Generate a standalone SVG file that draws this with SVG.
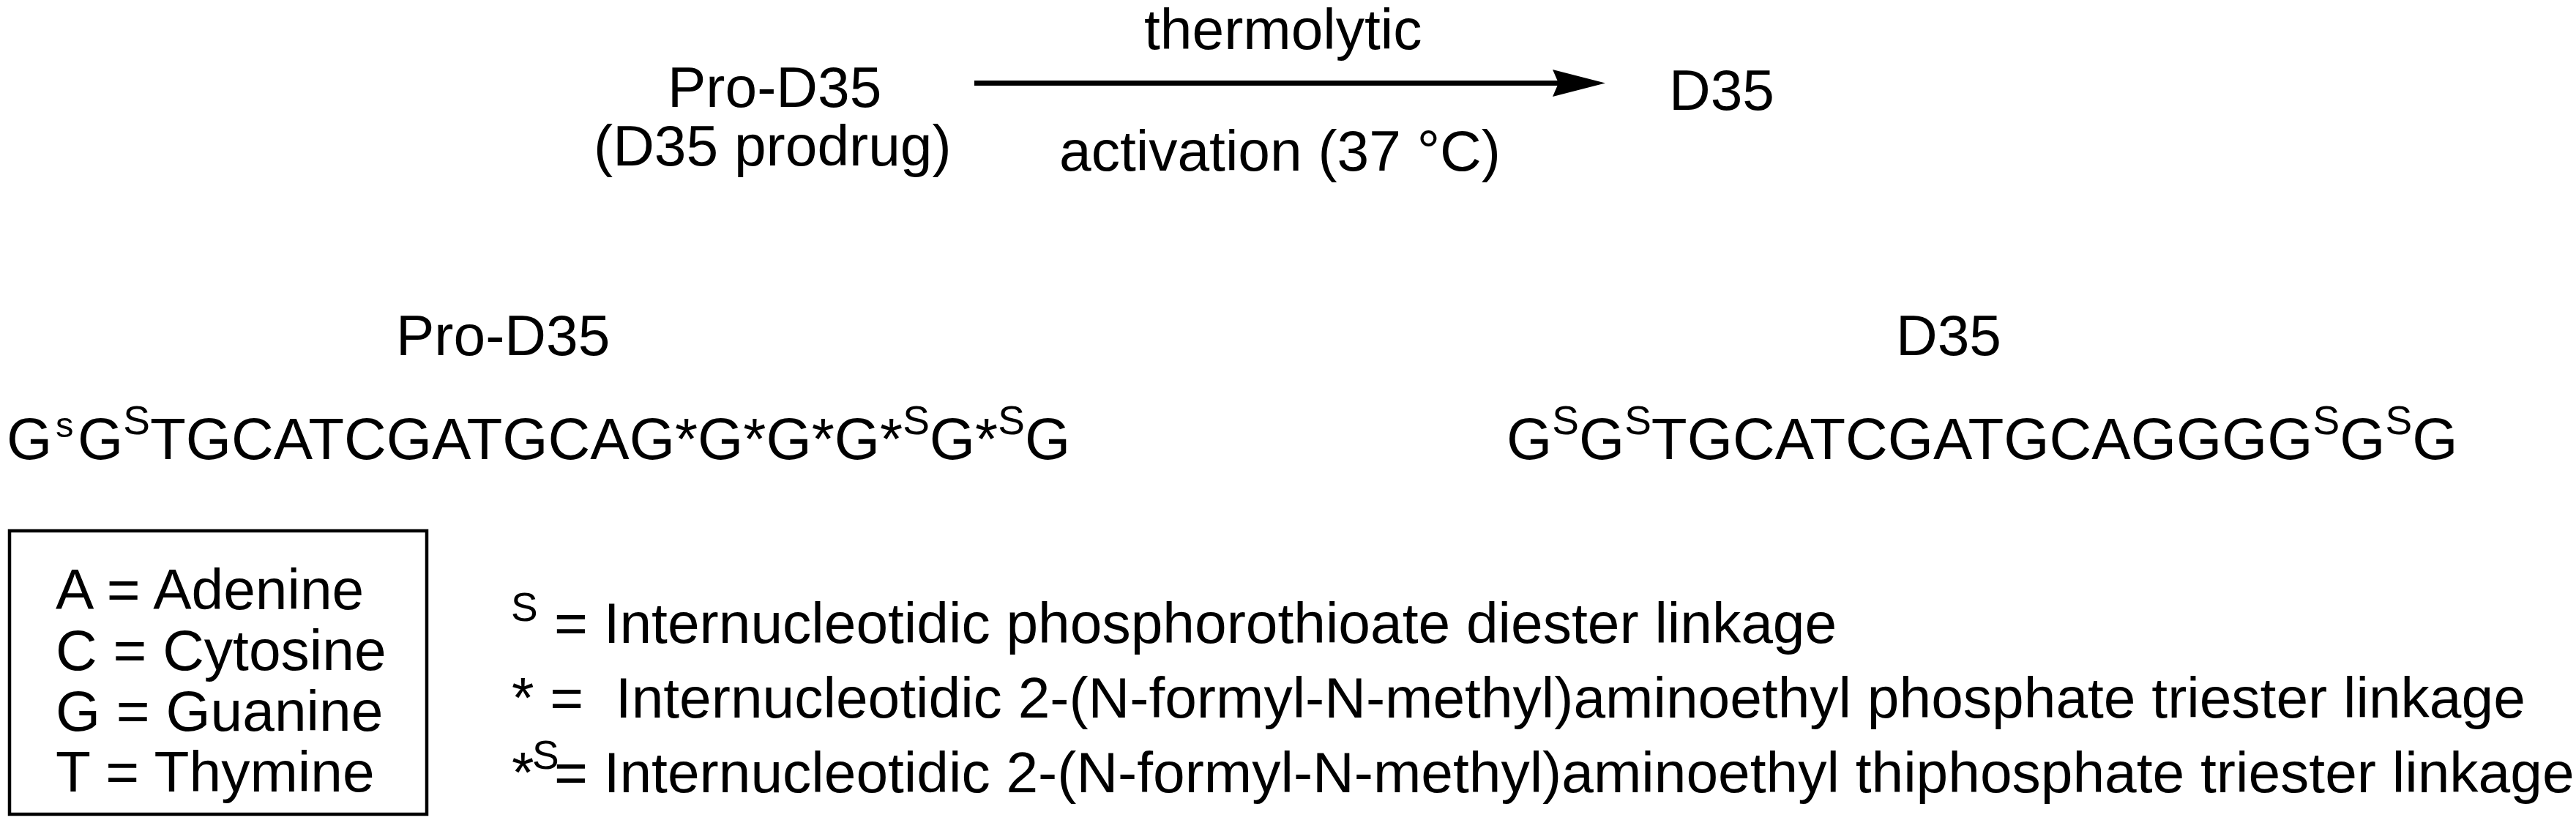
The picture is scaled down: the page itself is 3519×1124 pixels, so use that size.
<svg xmlns="http://www.w3.org/2000/svg" width="3519" height="1124" viewBox="0 0 3519 1124">
<style>
text { font-family: "Liberation Sans", Arial, Helvetica, sans-serif; font-size: 78.5px; fill: #000; }
.seq { font-size: 80px; }
.sup { font-size: 55px; }
.pre { white-space: pre; }
.box { fill: none; stroke: #000; stroke-width: 4.5; }
.arrow { stroke: #000; stroke-width: 7; fill: none; }
</style>
<defs>
<marker id="arrowhead" markerUnits="userSpaceOnUse" viewBox="0 0 72 37" markerWidth="72" markerHeight="37" refX="8" refY="18.5" orient="auto">
<path d="M0,0 L72,18.5 L0,37 L8,18.5 Z" fill="#000"/>
</marker>
</defs>
<rect x="0" y="0" width="3519" height="1124" fill="#fff"/>

<g id="pro-d35-top">
<text x="912" y="146">Pro-D35</text>
<text x="811" y="226">(D35 prodrug)</text>
</g>
<g id="d35-top">
<text x="2280" y="150">D35</text>
</g>

<g id="connectors">
<line class="arrow" x1="1331" y1="113.5" x2="2129" y2="113.5" marker-end="url(#arrowhead)"/>
<text x="1563" y="67">thermolytic</text>
<text x="1447" y="233">activation (37 °C)</text>
</g>

<g id="pro-d35-sequence">
<text x="541" y="485">Pro-D35</text>
<text class="seq" x="9" y="627">G<tspan font-size="49" x="76" y="597">s</tspan><tspan x="106" y="627">G</tspan><tspan class="sup" y="593">S</tspan><tspan y="627">TGCATCGATGCAG*G*G*G*</tspan><tspan class="sup" y="593">S</tspan><tspan y="627">G*</tspan><tspan class="sup" y="593">S</tspan><tspan y="627">G</tspan></text>
</g>

<g id="d35-sequence">
<text x="2590" y="485">D35</text>
<text class="seq" x="2058" y="627">G<tspan class="sup" y="593">S</tspan><tspan y="627">G</tspan><tspan class="sup" y="593">S</tspan><tspan y="627">TGCATCGATGCAGGGG</tspan><tspan class="sup" y="593">S</tspan><tspan y="627">G</tspan><tspan class="sup" y="593">S</tspan><tspan y="627">G</tspan></text>
</g>

<g id="base-key">
<rect class="box" x="13" y="725" width="570" height="387"/>
<text x="76" y="832">A = Adenine</text>
<text x="76" y="915">C = Cytosine</text>
<text x="76" y="998">G = Guanine</text>
<text x="76" y="1081">T = Thymine</text>
</g>

<g id="linkage-key">
<text class="sup" x="698" y="848">S</text>
<text x="757" y="878">= Internucleotidic phosphorothioate diester linkage</text>
<text class="pre" x="699" y="980">* =  Internucleotidic 2-(N-formyl-N-methyl)aminoethyl phosphate triester linkage</text>
<text x="699" y="1082">*</text>
<text class="sup" x="727" y="1050">S</text>
<text x="757" y="1082">= Internucleotidic 2-(N-formyl-N-methyl)aminoethyl thiphosphate triester linkage</text>
</g>
</svg>
